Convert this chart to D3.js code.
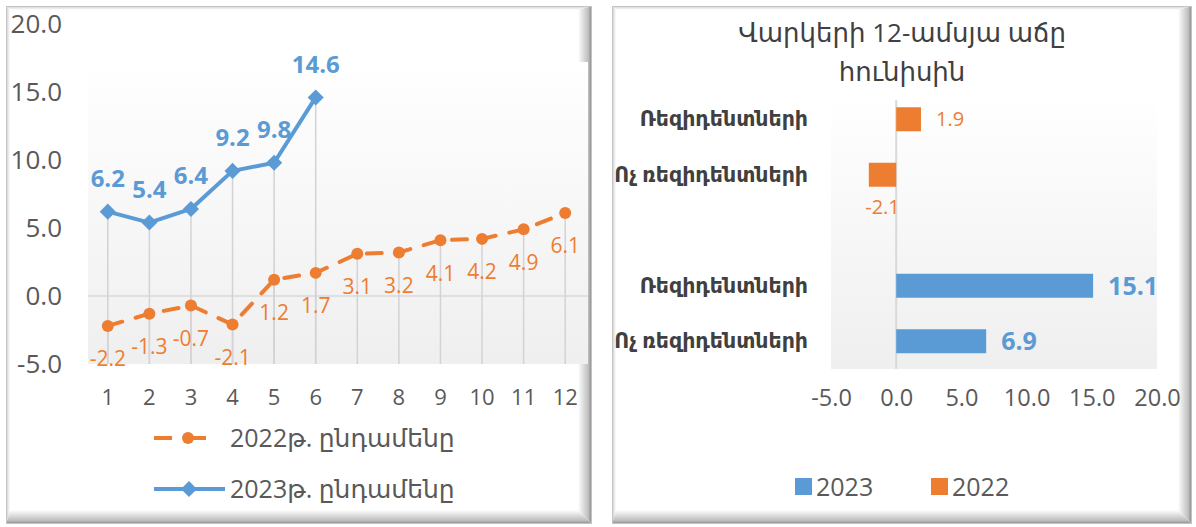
<!DOCTYPE html>
<html>
<head>
<meta charset="utf-8">
<script src="https://cdn.jsdelivr.net/npm/d3@7"></script>
<style>
  body { margin: 0; background: #fff; }
  svg { display: block; }
  text { font-family: "Open Sans", "DejaVu Sans", sans-serif; }
</style>
</head>
<body>
<svg id="chart" width="1196" height="527"></svg>
<script>
// ---- line chart: monthly total growth, 2022 vs 2023 ----
const months = [1, 2, 3, 4, 5, 6, 7, 8, 9, 10, 11, 12];
const total2022 = [-2.2, -1.3, -0.7, -2.1, 1.2, 1.7, 3.1, 3.2, 4.1, 4.2, 4.9, 6.1];
const total2023 = [6.2, 5.4, 6.4, 9.2, 9.8, 14.6];
const lineTicks = [-5, 0, 5, 10, 15, 20];
const lineLegend = ["2022թ. ընդամենը", "2023թ. ընդամենը"];

// ---- bar chart: 12-month loan growth in June ----
const barTitle = ["Վարկերի 12-ամսյա աճը", "հունիսին"];
const barYears = ["2022", "2023"];
const barGroups = ["Ռեզիդենտների", "Ոչ ռեզիդենտների"];
const bars2022 = [1.9, -2.1];
const bars2023 = [15.1, 6.9];
const barTicks = [-5, 0, 5, 10, 15, 20];
const barLegend = ["2023", "2022"];

const ORANGE = "#ED7D31", BLUE = "#5B9BD5", TEXT = "#595959", DARK = "#404040";
// one decimal, plain hyphen for negatives
const fmt = d3.formatLocale({ decimal: ".", thousands: ",", grouping: [3], currency: ["", ""], minus: "-" }).format(".1f");

const svg = d3.select("#chart");
const defs = svg.append("defs");

function linGrad(id, x1, y1, x2, y2, stops) {
  const g = defs.append("linearGradient").attr("id", id)
    .attr("x1", x1).attr("y1", y1).attr("x2", x2).attr("y2", y2);
  stops.forEach(([o, c]) => g.append("stop").attr("offset", o).attr("stop-color", c));
}
linGrad("bevR", 0, 0, 1, 0, [[0, "#ffffff"], [0.75, "#bdbdbd"], [1, "#808080"]]);
linGrad("bevB", 0, 0, 0, 1, [[0, "#ffffff"], [0.75, "#bdbdbd"], [1, "#8a8a8a"]]);
linGrad("bevL", 0, 0, 1, 0, [[0, "#c8c8c8"], [1, "#ffffff"]]);
linGrad("bevT", 0, 0, 0, 1, [[0, "#cfcfcf"], [1, "#ffffff"]]);
linGrad("plotBg", 0, 0, 0, 1, [[0, "#ffffff"], [1, "#efefef"]]);

// beveled panel frame
function panel(x, y, w, h) {
  const g = svg.append("g");
  const b1 = 4, b2 = 14;
  g.append("rect").attr("x", x).attr("y", y).attr("width", w).attr("height", h).attr("fill", "#fff");
  const poly = (pts, fill) => g.append("polygon").attr("points", pts.map(p => p.join(",")).join(" ")).attr("fill", fill);
  poly([[x, y], [x + w, y], [x + w - b2, y + b1], [x + b1, y + b1]], "url(#bevT)");
  poly([[x, y], [x + b1, y + b1], [x + b1, y + h - b2], [x, y + h]], "url(#bevL)");
  poly([[x + w, y], [x + w, y + h], [x + w - b2, y + h - b2], [x + w - b2, y + b1]], "url(#bevR)");
  poly([[x, y + h], [x + w, y + h], [x + w - b2, y + h - b2], [x + b1, y + h - b2]], "url(#bevB)");
  g.append("rect").attr("x", x + 0.5).attr("y", y + 0.5).attr("width", w - 1).attr("height", h - 1)
    .attr("fill", "none").attr("stroke", "#c4c4c4");
  return g;
}
panel(6, 6, 586, 518);
panel(612, 6, 580, 518);

// ================= LINE CHART =================
const L = svg.append("g");
const x = d3.scaleBand().domain(months).range([87, 586]);
const y = d3.scaleLinear().domain([-5, 20]).range([364, 24]);
const cx = m => x(m) + x.bandwidth() / 2;

L.append("rect").attr("x", 88).attr("y", 62).attr("width", 500).attr("height", y(-5) - 62)
  .attr("fill", "url(#plotBg)");

// zero line
L.append("line").attr("x1", 88).attr("x2", 588).attr("y1", y(0)).attr("y2", y(0))
  .attr("stroke", "#d9d9d9").attr("stroke-width", 1.5);

// y axis
const yAxis = L.append("g").attr("transform", "translate(62,0)")
  .call(d3.axisLeft(y).tickValues(lineTicks).tickFormat(fmt).tickSize(0).tickPadding(0));
yAxis.select(".domain").remove();
yAxis.selectAll("text").attr("font-size", 26).attr("fill", TEXT).attr("font-family", null);

// x axis
const xAxis = L.append("g").attr("transform", "translate(0,389)")
  .call(d3.axisBottom(x).tickSize(0).tickPadding(0));
xAxis.select(".domain").remove();
xAxis.selectAll("text").attr("font-size", 22).attr("fill", TEXT).attr("font-family", null);

const s22 = months.map((m, i) => ({ m, v: total2022[i] }));
const s23 = total2023.map((v, i) => ({ m: months[i], v }));

// drop lines
L.append("g").selectAll("line").data(s22.concat(s23)).join("line")
  .attr("x1", d => cx(d.m)).attr("x2", d => cx(d.m))
  .attr("y1", d => y(d.v)).attr("y2", y(-5))
  .attr("stroke", "#d3d3d3").attr("stroke-width", 1.5);

const line = d3.line().x(d => cx(d.m)).y(d => y(d.v));

// 2022 series
L.append("path").datum(s22).attr("d", line).attr("fill", "none")
  .attr("stroke", ORANGE).attr("stroke-width", 4).attr("stroke-dasharray", "15,14")
  .attr("stroke-linecap", "round");
L.append("g").selectAll("circle").data(s22).join("circle")
  .attr("cx", d => cx(d.m)).attr("cy", d => y(d.v)).attr("r", 6).attr("fill", ORANGE);
L.append("g").selectAll("text").data(s22).join("text")
  .attr("x", d => cx(d.m)).attr("y", d => y(d.v) + 33).attr("dy", "0.35em")
  .attr("text-anchor", "middle").attr("font-size", 21).attr("fill", ORANGE)
  .text(d => fmt(d.v));

// 2023 series
L.append("path").datum(s23).attr("d", line).attr("fill", "none")
  .attr("stroke", BLUE).attr("stroke-width", 4).attr("stroke-linejoin", "round");
const diamond = d3.symbol().type(d3.symbolSquare).size(130);
L.append("g").selectAll("path").data(s23).join("path")
  .attr("d", diamond)
  .attr("transform", d => `translate(${cx(d.m)},${y(d.v)}) rotate(45)`)
  .attr("fill", BLUE);
L.append("g").selectAll("text").data(s23).join("text")
  .attr("x", d => cx(d.m)).attr("y", d => y(d.v) - 33).attr("dy", "0.35em")
  .attr("text-anchor", "middle").attr("font-size", 24).attr("font-weight", "bold").attr("fill", BLUE)
  .text(d => fmt(d.v));

// legend
const lg = L.append("g");
lg.append("line").attr("x1", 154).attr("x2", 206).attr("y1", 438).attr("y2", 438)
  .attr("stroke", ORANGE).attr("stroke-width", 4).attr("stroke-dasharray", "18,16");
lg.append("circle").attr("cx", 188).attr("cy", 438).attr("r", 6).attr("fill", ORANGE);
lg.append("line").attr("x1", 154).attr("x2", 225).attr("y1", 489).attr("y2", 489)
  .attr("stroke", BLUE).attr("stroke-width", 4);
lg.append("path").attr("d", diamond).attr("transform", "translate(189,489) rotate(45)").attr("fill", BLUE);
lg.selectAll("text").data(lineLegend).join("text")
  .attr("x", 230).attr("y", (d, i) => 438 + i * 51).attr("dy", "0.35em")
  .attr("font-size", 25).attr("fill", TEXT).text(d => d);

// ================= BAR CHART =================
const B = svg.append("g");
const xb = d3.scaleLinear().domain([-5, 20]).range([831, 1157]);
const yYear = d3.scaleBand().domain(barYears).range([91.5, 369]).paddingInner(1 / 3);
const yGroup = d3.scaleBand().domain(barGroups).range([0, yYear.bandwidth()]);
const barH = 24;

B.selectAll("text.title").data(barTitle).join("text").attr("class", "title")
  .attr("x", 902).attr("y", (d, i) => 33 + i * 39).attr("dy", "0.35em")
  .attr("text-anchor", "middle").attr("font-size", 26).attr("fill", DARK).text(d => d);

B.append("rect").attr("x", 831).attr("y", 95).attr("width", 326).attr("height", 274)
  .attr("fill", "url(#plotBg)");
B.append("line").attr("x1", xb(0)).attr("x2", xb(0)).attr("y1", 100).attr("y2", 369)
  .attr("stroke", "#d9d9d9").attr("stroke-width", 2);

const rows = [];
barYears.forEach((yr, yi) => {
  const vals = yi === 0 ? bars2022 : bars2023;
  barGroups.forEach((g, gi) => rows.push({ yr, g, v: vals[gi] }));
});
const rowY = d => yYear(d.yr) + yGroup(d.g) + (yGroup.bandwidth() - barH) / 2;
const rowC = d => yYear(d.yr) + yGroup(d.g) + yGroup.bandwidth() / 2;
const colorOf = yr => (yr === "2022" ? ORANGE : BLUE);

B.append("g").selectAll("rect").data(rows).join("rect")
  .attr("x", d => Math.min(xb(0), xb(d.v))).attr("y", rowY)
  .attr("width", d => Math.abs(xb(d.v) - xb(0))).attr("height", barH)
  .attr("fill", d => colorOf(d.yr));

// category labels
B.append("g").selectAll("text").data(rows).join("text")
  .attr("x", 808).attr("y", rowC).attr("dy", "0.35em").attr("text-anchor", "end")
  .attr("font-size", 20.5).attr("font-weight", "bold").attr("fill", DARK).text(d => d.g);

// value labels: right of positive bars, beneath negative bars
B.append("g").selectAll("text").data(rows).join("text")
  .attr("x", d => d.v >= 0 ? xb(d.v) + 15 : (xb(d.v) + xb(0)) / 2)
  .attr("y", d => d.v >= 0 ? rowC(d) : rowY(d) + barH + 20)
  .attr("dy", "0.35em")
  .attr("text-anchor", d => d.v >= 0 ? "start" : "middle")
  .attr("font-size", d => d.yr === "2023" ? 25 : 20)
  .attr("font-weight", d => d.yr === "2023" ? "bold" : "normal")
  .attr("fill", d => colorOf(d.yr))
  .text(d => fmt(d.v));

// x axis
const xbAxis = B.append("g").attr("transform", "translate(0,389)")
  .call(d3.axisBottom(xb).tickValues(barTicks).tickFormat(fmt).tickSize(0).tickPadding(0));
xbAxis.select(".domain").remove();
xbAxis.selectAll("text").attr("font-size", 23.5).attr("fill", TEXT).attr("font-family", null);

// legend
const bl = B.append("g").selectAll("g").data(barLegend).join("g")
  .attr("transform", (d, i) => `translate(${795 + i * 136},478)`);
bl.append("rect").attr("width", 17).attr("height", 17).attr("fill", d => colorOf(d));
bl.append("text").attr("x", 21).attr("y", 9).attr("dy", "0.35em")
  .attr("font-size", 25).attr("fill", TEXT).text(d => d);
</script>
</body>
</html>
